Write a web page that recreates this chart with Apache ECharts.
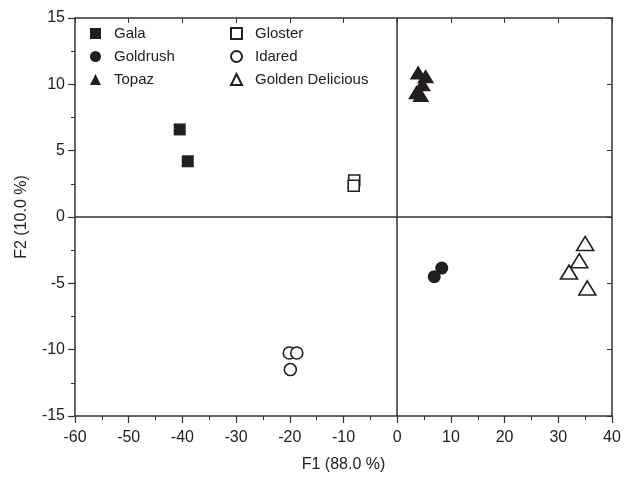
<!DOCTYPE html>
<html lang="en">
<head>
    <meta charset="UTF-8">
    <title>PCA scores</title>
    <style>
        html, body { margin: 0; padding: 0; background: #fff; }
        #main { width: 634px; height: 484px; }
    </style>
</head>
<body>
    <div id="main"></div>
    <script src="https://cdn.jsdelivr.net/npm/echarts@6/dist/echarts.min.js"></script>
    <script>
        // scores, [F1, F2]
        var gala = [[-40.5, 6.6], [-39.0, 4.2]];
        var gloster = [[-8.0, 2.75], [-8.1, 2.35]];
        var goldrush = [[8.3, -3.85], [6.9, -4.5]];
        var idared = [[-20.1, -10.25], [-18.7, -10.25], [-19.9, -11.5]];
        var topaz = [[3.9, 10.9], [5.3, 10.6], [4.7, 10.0], [3.6, 9.4], [4.4, 9.2]];
        var goldenDelicious = [[35.0, -2.0], [33.9, -3.3], [32.0, -4.15], [35.4, -5.35]];

        var xName = 'F1 (88.0 %)';
        var yName = 'F2 (10.0 %)';

        var ink = '#231f20';
        var font = 'Liberation Sans, Arial, sans-serif';

        var chart = echarts.init(document.getElementById('main'));

        function pts(name, data, symbol, size, hollow) {
            return {
                name: name,
                type: 'scatter',
                data: data,
                symbol: symbol,
                symbolSize: size,
                itemStyle: hollow
                    ? { color: '#fff', borderColor: ink, borderWidth: 1.6, opacity: 1 }
                    : { color: ink, borderWidth: 0, opacity: 1 }
            };
        }

        var axisCommon = {
            type: 'value',
            splitLine: { show: false },
            axisLine: { onZero: false, lineStyle: { color: '#333', width: 1.5 } },
            axisTick: { length: 7, lineStyle: { color: '#333', width: 1.2 } },
            minorTick: { show: true, splitNumber: 2, length: 4, lineStyle: { color: '#333', width: 1 } },
            axisLabel: { color: '#222', fontSize: 16, fontFamily: font, margin: 10 }
        };

        var legendText = { fontSize: 15, fontFamily: font, color: '#222', padding: [0, 0, 0, 8] };

        var option = {
            animation: false,
            grid: { left: 75, right: 22, top: 18, bottom: 68 },
            legend: [
                {
                    left: 85, top: 21, orient: 'vertical', itemGap: 8,
                    itemWidth: 11, itemHeight: 11,
                    textStyle: legendText,
                    data: ['Gala', 'Goldrush', 'Topaz']
                },
                {
                    left: 225, top: 21, orient: 'vertical', itemGap: 8,
                    itemWidth: 11, itemHeight: 11,
                    textStyle: legendText,
                    data: ['Gloster', 'Idared', 'Golden Delicious']
                }
            ],
            xAxis: [
                Object.assign({}, axisCommon, {
                    min: -60, max: 40, interval: 10,
                    axisLabel: { color: '#222', fontSize: 16, fontFamily: font, margin: 14 },
                    name: xName, nameLocation: 'middle', nameGap: 41,
                    nameTextStyle: { fontSize: 16, fontFamily: font, color: '#222' }
                }),
                Object.assign({}, axisCommon, {
                    position: 'top', min: -60, max: 40, interval: 10,
                    axisTick: { inside: true, length: 5, lineStyle: { color: '#333', width: 1 } },
                    minorTick: { show: false },
                    axisLabel: { show: false }
                })
            ],
            yAxis: [
                Object.assign({}, axisCommon, {
                    min: -15, max: 15, interval: 5,
                    name: yName, nameLocation: 'middle', nameGap: 45,
                    nameTextStyle: { fontSize: 16, fontFamily: font, color: '#222' }
                }),
                Object.assign({}, axisCommon, {
                    position: 'right', min: -15, max: 15, interval: 5,
                    axisTick: { inside: true, length: 5, lineStyle: { color: '#333', width: 1 } },
                    minorTick: { show: false },
                    axisLabel: { show: false }
                })
            ],
            series: [
                pts('Gala', gala, 'rect', 12, false),
                pts('Goldrush', goldrush, 'circle', 13, false),
                Object.assign(pts('Topaz', topaz, 'triangle', [17, 14], false), {
                    markLine: {
                        silent: true,
                        symbol: 'none',
                        label: { show: false },
                        lineStyle: { color: '#333', width: 1.5, type: 'solid' },
                        data: [{ xAxis: 0 }, { yAxis: 0 }]
                    }
                }),
                pts('Gloster', gloster, 'rect', 11, true),
                pts('Idared', idared, 'circle', 12, true),
                pts('Golden Delicious', goldenDelicious, 'triangle', [17, 14], true)
            ]
        };

        chart.setOption(option);
    </script>
</body>
</html>
